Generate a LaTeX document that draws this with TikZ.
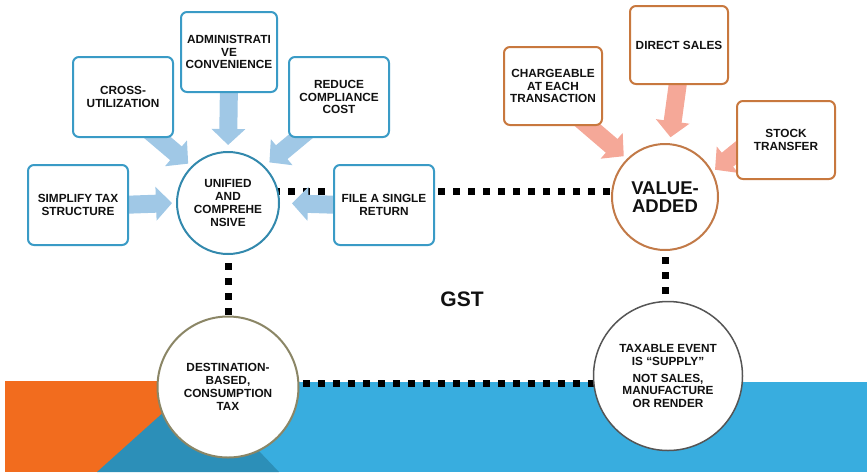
\documentclass[tikz,border=0pt]{standalone}
\usepackage{fontspec}
\setmainfont{Liberation Sans}
\usetikzlibrary{arrows.meta,calc}
\pgfdeclarelayer{bg}
\pgfdeclarelayer{mid}
\pgfsetlayers{bg,mid,main}
\definecolor{bandorange}{HTML}{F26C1E}
\definecolor{bandblue}{HTML}{38ADDF}
\definecolor{bandteal}{HTML}{2C8FB8}
\definecolor{boxblue}{HTML}{3A9BC6}
\definecolor{boxorange}{HTML}{C8783E}
\definecolor{arrblue}{HTML}{A0C8E6}
\definecolor{arrorange}{HTML}{F5A898}
\definecolor{unicirc}{HTML}{3389AD}
\definecolor{valcirc}{HTML}{C27A48}
\definecolor{destcirc}{HTML}{8B8666}
\definecolor{taxcirc}{HTML}{555555}
\definecolor{txt}{HTML}{111111}
\begin{document}
\begin{tikzpicture}[x=1pt,y=-1pt,
  bbox/.style={draw=boxblue,line width=2pt,fill=white,rounded corners=6pt,
    minimum width=100pt,minimum height=80pt,align=center,inner sep=2pt,
    text=txt,font=\bfseries\fontsize{11.8}{12.8}\selectfont},
  obox/.style={bbox,draw=boxorange,minimum width=98pt,minimum height=78pt},
  circ/.style={circle,fill=white,line width=2pt,inner sep=0pt,align=center,
    text=txt,font=\bfseries\fontsize{11.8}{12.8}\selectfont},
  dotline/.style={line width=7pt,dash pattern=on 7pt off 8pt,black},
  barrow/.style={line width=18pt,draw=arrblue,-{Triangle[length=16pt,width=33pt]}},
  oarrow/.style={barrow,draw=arrorange}
]
\useasboundingbox (0,0) rectangle (867,472);

% circles
\node[circ,draw=unicirc,minimum size=102pt] (uni) at (228,203) {UNIFIED\\AND\\COMPREHE\\NSIVE};
\node[circ,draw=valcirc,minimum size=106pt,font=\bfseries\fontsize{18.5}{17.5}\selectfont] (val) at (665,197) {VALUE-\\ADDED};
\node[circ,draw=destcirc,minimum size=141pt] (dest) at (228,387) {DESTINATION-\\BASED,\\CONSUMPTION\\TAX};
\node[circ,draw=taxcirc,line width=1.5pt,minimum size=149pt] (tax) at (668,376) {TAXABLE EVENT\\IS ``SUPPLY''\\[4pt]NOT SALES,\\MANUFACTURE\\OR RENDER};

% boxes
\node[bbox] (simp) at (78,205) {SIMPLIFY TAX\\STRUCTURE};
\node[bbox] (cross) at (123,97) {CROSS-\\UTILIZATION};
\node[bbox,minimum width=96pt] (admin) at (229,52) {ADMINISTRATI\\VE\\CONVENIENCE};
\node[bbox] (red) at (339,97) {REDUCE\\COMPLIANCE\\COST};
\node[bbox] (file) at (384,205) {FILE A SINGLE\\RETURN};
\node[obox] (charge) at (553,86) {CHARGEABLE\\AT EACH\\TRANSACTION};
\node[obox] (direct) at (679,45) {DIRECT SALES};
\node[obox] (stock) at (786,140) {STOCK\\TRANSFER};

\node[text=txt,font=\bfseries\fontsize{21}{21}\selectfont] (gst) at (462,299) {GST};

% background bands
\begin{pgfonlayer}{bg}
  \fill[bandorange] (5,381) rectangle (228,472);
  \fill[bandblue] (228,382) rectangle (867,472);
  \fill[bandteal] (97,472) -- (195,384) -- (279,472) -- cycle;
\end{pgfonlayer}

% connectors
\begin{pgfonlayer}{mid}
  \draw[dotline] (uni.center |- 0,191) -- (val.center |- 0,191);
  \draw[dotline] (uni.center) -- (dest.center);
  \draw[dotline] (dest.center |- 0,383) -- (tax.center |- 0,383);
  \draw[dotline] (val.center) -- (val.center |- tax.center);

  \draw[barrow,shorten >=4pt] ($(simp.east)+(-10,0)$) -- (uni.west);
  \draw[barrow,shorten >=12pt] ($(file.west)+(10,0)$) -- (uni.east);
  \draw[barrow,shorten >=4pt] ($(cross.center)+(22,30)$) -- (uni.135);
  \draw[barrow,shorten >=6pt] ($(admin.south)+(0,-10)$) -- (uni.north);
  \draw[barrow,shorten >=6pt] ($(red.center)+(-27,30)$) -- (uni.45);

  \draw[oarrow,shorten >=4pt] ($(charge.center)+(25,31)$) -- (val.135);
  \draw[oarrow,shorten >=6pt] ($(direct.south)+(0,-10)$) -- (val.85);
  \draw[oarrow,shorten >=3pt] ($(stock.center)+(-38,3)$) -- (val.28);
\end{pgfonlayer}
\end{tikzpicture}
\end{document}
